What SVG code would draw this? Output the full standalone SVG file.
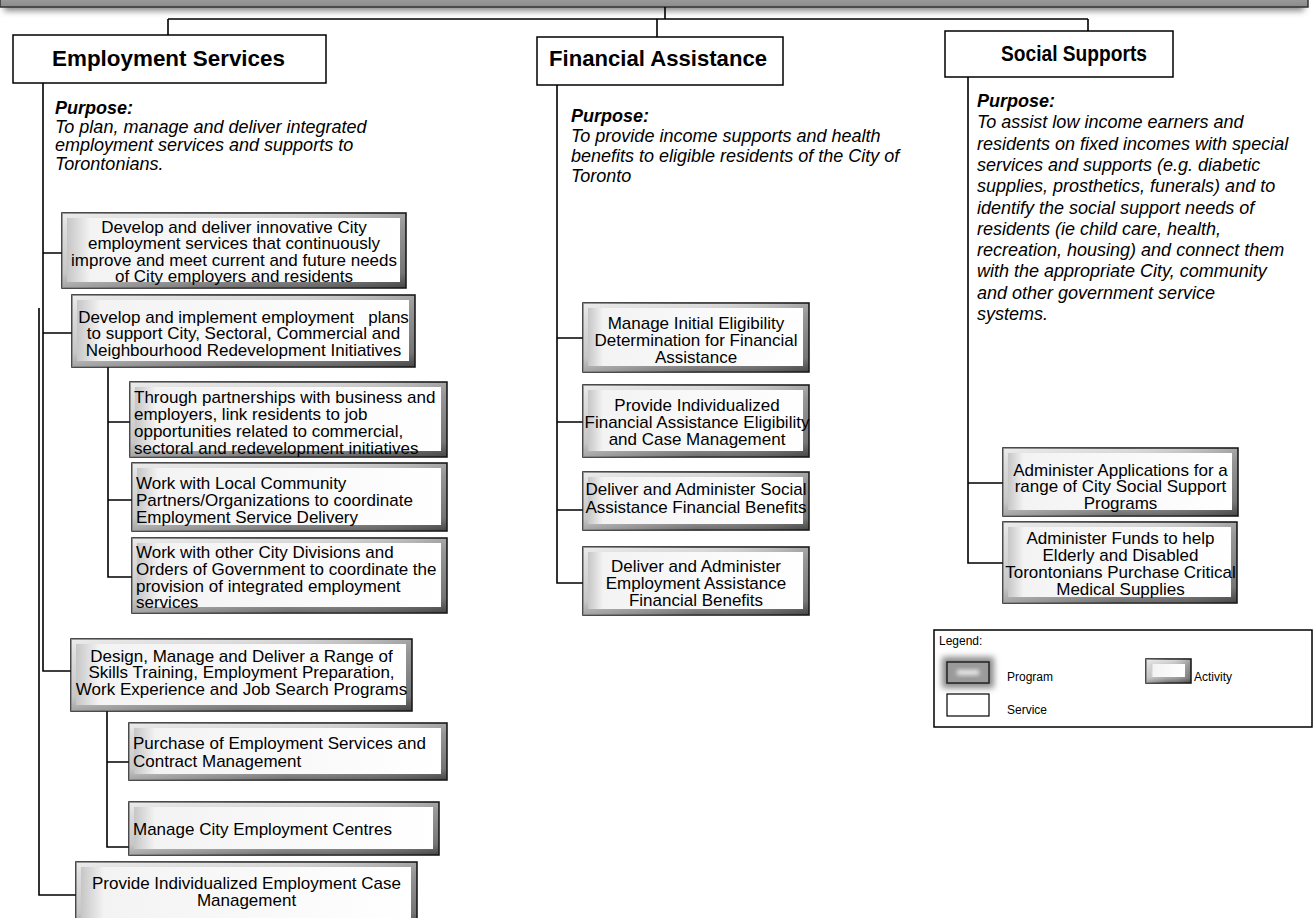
<svg xmlns="http://www.w3.org/2000/svg" width="1314" height="918" viewBox="0 0 1314 918">
<defs>
<linearGradient id="gOuter" x1="0" y1="0" x2="0" y2="1">
<stop offset="0" stop-color="#dcdcdc"/><stop offset="0.2" stop-color="#c4c4c4"/><stop offset="0.8" stop-color="#9a9a9a"/><stop offset="1" stop-color="#5c5c5c"/>
</linearGradient>
<linearGradient id="gShade" x1="0" y1="0" x2="1" y2="0">
<stop offset="0" stop-color="#fff" stop-opacity="0.45"/><stop offset="0.5" stop-color="#fff" stop-opacity="0.1"/><stop offset="1" stop-color="#000" stop-opacity="0.25"/>
</linearGradient>
<linearGradient id="gFace" x1="0" y1="0" x2="1" y2="0">
<stop offset="0" stop-color="#c6c6c6"/><stop offset="0.07" stop-color="#f3f3f3"/><stop offset="1" stop-color="#ffffff"/>
</linearGradient>
<linearGradient id="gBar" x1="0" y1="0" x2="0" y2="1">
<stop offset="0" stop-color="#d8d8d8"/><stop offset="1" stop-color="#8a8a8a"/>
</linearGradient>
<filter id="blur3" x="-50%" y="-50%" width="200%" height="200%"><feGaussianBlur stdDeviation="3"/></filter>
<filter id="blur2" x="-50%" y="-50%" width="200%" height="200%"><feGaussianBlur stdDeviation="2"/></filter>
</defs>
<style>
.ao{fill:url(#gOuter);stroke:#1e1e1e;stroke-width:1.6}
.as{fill:url(#gShade)}
.ai{fill:url(#gFace)}
.svc{fill:#fff;stroke:#000;stroke-width:1.5}
.t{font-family:"Liberation Sans",Arial,sans-serif;font-size:17px;fill:#000}
.c{text-anchor:middle}
.h{font-weight:bold;font-size:21.5px}
.p{font-style:italic;font-size:18px}
.pb{font-weight:bold}
.lg{font-size:12px}
.cn{fill:none;stroke:#000;stroke-width:1.6}
</style>
<rect width="1314" height="918" fill="#fff"/>

<g id="top-program">
<rect x="4" y="-2" width="1300" height="13" fill="#888" filter="url(#blur3)"/>
<rect x="0" y="-30" width="1308" height="37" fill="url(#gBar)" stroke="#333" stroke-width="1.5"/>
</g>

<g id="connectors">
<path class="cn" d="M665 7V19M168 19H1088M168 19V35M657 19V37M1088 19V31"/>
<path class="cn" d="M43 83V671H71M43 253H62M43 333H72M39 308V895H76M108 367V577H132M108 422H130M108 500H132M107 711V847H129M107 762H129"/>
<path class="cn" d="M557 85V583H583M557 338H583M557 422H583M557 510H583"/>
<path class="cn" d="M968 77V563H1003M968 483H1003"/>
</g>

<g id="svc-employment">
<rect class="svc" x="13" y="35" width="313" height="48"/>
<text class="t h c" x="168.5" y="66" textLength="233" lengthAdjust="spacingAndGlyphs">Employment Services</text>
</g>
<g id="svc-financial">
<rect class="svc" x="537" y="37" width="246" height="48"/>
<text class="t h c" x="658" y="66" textLength="218" lengthAdjust="spacingAndGlyphs">Financial Assistance</text>
</g>
<g id="svc-social">
<rect class="svc" x="945" y="31" width="228" height="46"/>
<text class="t h c" x="1074" y="61" textLength="146" lengthAdjust="spacingAndGlyphs">Social Supports</text>
</g>

<g id="purpose-employment">
<text class="t p" x="55" y="114"><tspan class="pb">Purpose:</tspan><tspan x="55" dy="18.5">To plan, manage and deliver integrated</tspan><tspan x="55" dy="18.5">employment services and supports to</tspan><tspan x="55" dy="18.5">Torontonians.</tspan></text>
</g>
<g id="purpose-financial">
<text class="t p" x="571" y="122"><tspan class="pb">Purpose:</tspan><tspan x="571" dy="20">To provide income supports and health</tspan><tspan x="571" dy="20">benefits to eligible residents of the City of</tspan><tspan x="571" dy="20">Toronto</tspan></text>
</g>
<g id="purpose-social">
<text class="t p" x="977" y="107"><tspan class="pb">Purpose:</tspan><tspan x="977" dy="21.3">To assist low income earners and</tspan><tspan x="977" dy="21.3">residents on fixed incomes with special</tspan><tspan x="977" dy="21.3">services and supports (e.g. diabetic</tspan><tspan x="977" dy="21.3">supplies, prosthetics, funerals) and to</tspan><tspan x="977" dy="21.3">identify the social support needs of</tspan><tspan x="977" dy="21.3">residents (ie child care, health,</tspan><tspan x="977" dy="21.3">recreation, housing) and connect them</tspan><tspan x="977" dy="21.3">with the appropriate City, community</tspan><tspan x="977" dy="21.3">and other government service</tspan><tspan x="977" dy="21.3">systems.</tspan></text>
</g>

<g id="act-develop-deliver">
<rect class="ao" x="62" y="213" width="344" height="75"/><rect class="as" x="62" y="213" width="344" height="75"/><rect class="ai" x="67" y="218" width="333" height="64"/>
<text class="t c" x="234" y="232.5"><tspan x="234">Develop and deliver innovative City</tspan><tspan x="234" dy="16.5">employment services that continuously</tspan><tspan x="234" dy="16.5">improve and meet current and future needs</tspan><tspan x="234" dy="16.5">of City employers and residents</tspan></text>
</g>
<g id="act-develop-implement">
<rect class="ao" x="72" y="295" width="343" height="72"/><rect class="as" x="72" y="295" width="343" height="72"/><rect class="ai" x="77" y="300" width="332" height="61"/>
<text class="t c" x="243.5" y="322.5" style="white-space:pre"><tspan x="243.5">Develop and implement employment   plans</tspan><tspan x="243.5" dy="16.5">to support City, Sectoral, Commercial and</tspan><tspan x="243.5" dy="16.5">Neighbourhood Redevelopment Initiatives</tspan></text>
</g>
<g id="act-partnerships">
<rect class="ao" x="130" y="382" width="317" height="75"/><rect class="as" x="130" y="382" width="317" height="75"/><rect class="ai" x="135" y="387" width="306" height="64"/>
<text class="t" x="134" y="402.5"><tspan x="134">Through partnerships with business and</tspan><tspan x="134" dy="17">employers, link residents to job</tspan><tspan x="134" dy="17">opportunities related to commercial,</tspan><tspan x="134" dy="17">sectoral and redevelopment initiatives</tspan></text>
</g>
<g id="act-local-community">
<rect class="ao" x="132" y="463" width="315" height="68"/><rect class="as" x="132" y="463" width="315" height="68"/><rect class="ai" x="137" y="468" width="304" height="57"/>
<text class="t" x="136" y="488.5"><tspan x="136">Work with Local Community</tspan><tspan x="136" dy="17">Partners/Organizations to coordinate</tspan><tspan x="136" dy="17">Employment Service Delivery</tspan></text>
</g>
<g id="act-other-divisions">
<rect class="ao" x="132" y="538" width="315" height="75"/><rect class="as" x="132" y="538" width="315" height="75"/><rect class="ai" x="137" y="543" width="304" height="64"/>
<text class="t" x="136" y="558"><tspan x="136">Work with other City Divisions and</tspan><tspan x="136" dy="16.8">Orders of Government to coordinate the</tspan><tspan x="136" dy="16.8">provision of integrated employment</tspan><tspan x="136" dy="16.8">services</tspan></text>
</g>
<g id="act-design-manage">
<rect class="ao" x="71" y="639" width="341" height="72"/><rect class="as" x="71" y="639" width="341" height="72"/><rect class="ai" x="76" y="644" width="330" height="61"/>
<text class="t c" x="241.5" y="661.5"><tspan x="241.5">Design, Manage and Deliver a Range of</tspan><tspan x="241.5" dy="16.5">Skills Training, Employment Preparation,</tspan><tspan x="241.5" dy="16.5">Work Experience and Job Search Programs</tspan></text>
</g>
<g id="act-purchase">
<rect class="ao" x="129" y="723" width="318" height="57"/><rect class="as" x="129" y="723" width="318" height="57"/><rect class="ai" x="134" y="728" width="307" height="46"/>
<text class="t" x="133" y="748.5"><tspan x="133">Purchase of Employment Services and</tspan><tspan x="133" dy="18.5">Contract Management</tspan></text>
</g>
<g id="act-centres">
<rect class="ao" x="129" y="802" width="310" height="53"/><rect class="as" x="129" y="802" width="310" height="53"/><rect class="ai" x="134" y="807" width="299" height="42"/>
<text class="t" x="133" y="834.5">Manage City Employment Centres</text>
</g>
<g id="act-case-management">
<rect class="ao" x="76" y="862" width="341" height="64"/><rect class="as" x="76" y="862" width="341" height="64"/><rect class="ai" x="81" y="867" width="330" height="53"/>
<text class="t c" x="246.5" y="888.5"><tspan x="246.5">Provide Individualized Employment Case</tspan><tspan x="246.5" dy="17">Management</tspan></text>
</g>

<g id="act-initial-eligibility">
<rect class="ao" x="583" y="303" width="226" height="69"/><rect class="as" x="583" y="303" width="226" height="69"/><rect class="ai" x="588" y="308" width="215" height="58"/>
<text class="t c" x="696" y="328.5"><tspan x="696">Manage Initial Eligibility</tspan><tspan x="696" dy="17">Determination for Financial</tspan><tspan x="696" dy="17">Assistance</tspan></text>
</g>
<g id="act-fa-case">
<rect class="ao" x="583" y="385" width="226" height="72"/><rect class="as" x="583" y="385" width="226" height="72"/><rect class="ai" x="588" y="390" width="215" height="61"/>
<text class="t c" x="697" y="410.5"><tspan x="697">Provide Individualized</tspan><tspan x="697" dy="17">Financial Assistance Eligibility</tspan><tspan x="697" dy="17">and Case Management</tspan></text>
</g>
<g id="act-social-benefits">
<rect class="ao" x="583" y="472" width="226" height="58"/><rect class="as" x="583" y="472" width="226" height="58"/><rect class="ai" x="588" y="477" width="215" height="47"/>
<text class="t c" x="696" y="494.5"><tspan x="696">Deliver and Administer Social</tspan><tspan x="696" dy="18">Assistance Financial Benefits</tspan></text>
</g>
<g id="act-employment-benefits">
<rect class="ao" x="583" y="547" width="226" height="68"/><rect class="as" x="583" y="547" width="226" height="68"/><rect class="ai" x="588" y="552" width="215" height="57"/>
<text class="t c" x="696" y="571.5"><tspan x="696">Deliver and Administer</tspan><tspan x="696" dy="17">Employment Assistance</tspan><tspan x="696" dy="17">Financial Benefits</tspan></text>
</g>

<g id="act-applications">
<rect class="ao" x="1003" y="448" width="235" height="68"/><rect class="as" x="1003" y="448" width="235" height="68"/><rect class="ai" x="1008" y="453" width="224" height="57"/>
<text class="t c" x="1120.5" y="475.5"><tspan x="1120.5">Administer Applications for a</tspan><tspan x="1120.5" dy="16.8">range of City Social Support</tspan><tspan x="1120.5" dy="16.8">Programs</tspan></text>
</g>
<g id="act-funds">
<rect class="ao" x="1003" y="522" width="234" height="81"/><rect class="as" x="1003" y="522" width="234" height="81"/><rect class="ai" x="1008" y="527" width="223" height="70"/>
<text class="t c" x="1120.5" y="543.5"><tspan x="1120.5">Administer Funds to help</tspan><tspan x="1120.5" dy="17">Elderly and Disabled</tspan><tspan x="1120.5" dy="17">Torontonians Purchase Critical</tspan><tspan x="1120.5" dy="17">Medical Supplies</tspan></text>
</g>

<g id="legend">
<rect x="934" y="630" width="378" height="97" fill="#fff" stroke="#000" stroke-width="1.5"/>
<text class="t lg" x="939" y="645">Legend:</text>
<rect x="942" y="657" width="52" height="31" fill="#888" filter="url(#blur3)"/>
<rect x="947" y="662" width="42" height="21" fill="#9a9a9a" stroke="#222" stroke-width="1.5"/>
<rect x="957" y="670" width="22" height="5" fill="#eee" filter="url(#blur2)"/>
<text class="t lg" x="1007" y="681">Program</text>
<rect class="ao" x="1146" y="659" width="45" height="24"/><rect class="as" x="1146" y="659" width="45" height="24"/><rect class="ai" x="1151" y="664" width="34" height="13"/>
<text class="t lg" x="1194" y="681">Activity</text>
<rect x="947" y="694" width="42" height="22" fill="#fff" stroke="#000" stroke-width="1.2"/>
<text class="t lg" x="1007" y="714">Service</text>
</g>
</svg>
